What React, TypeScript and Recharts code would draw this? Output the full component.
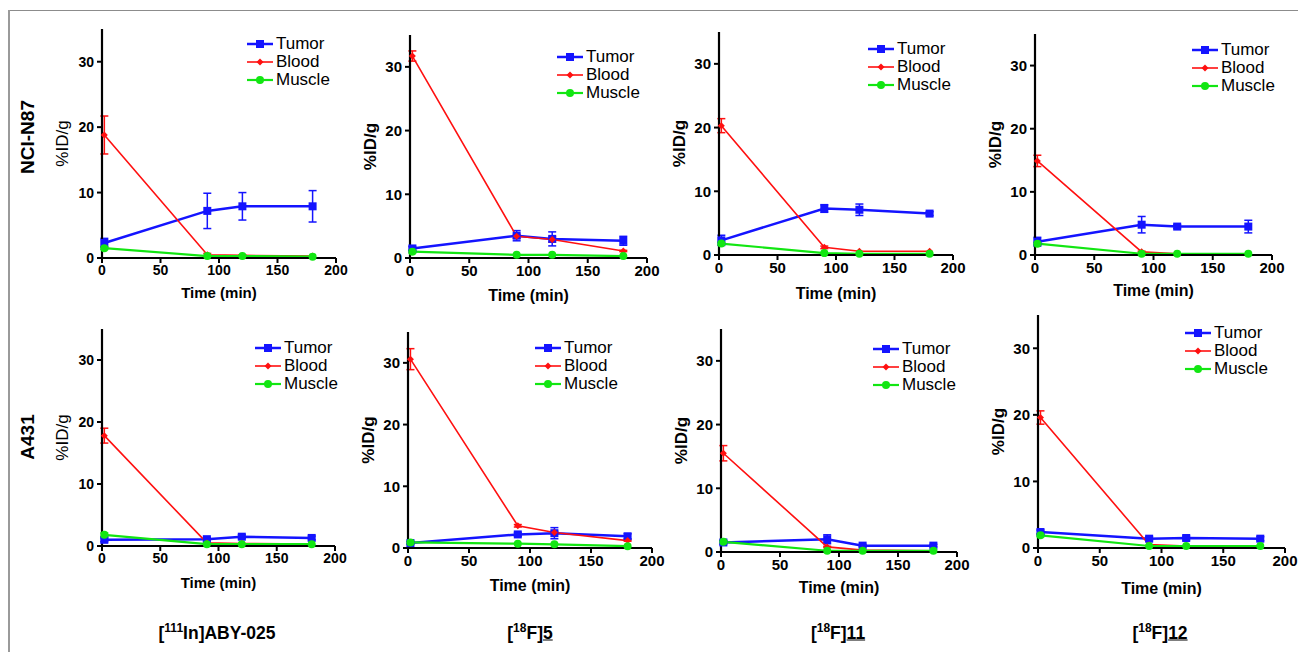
import React from "react";
import { LineChart, Line, XAxis, YAxis, ErrorBar, Legend } from "recharts";

// ---------- data ----------
const times = [2, 90, 120, 180];
const xTicks = [0, 50, 100, 150, 200];
const yTicks = [0, 10, 20, 30];
const seriesNames = ["Tumor", "Blood", "Muscle"];
const cellLines = ["NCI-N87", "A431"];
const tracerIsotopes = ["111", "18", "18", "18"];
const tracerElements = ["In", "F", "F", "F"];
const tracerCompounds = ["ABY-025", "5", "11", "12"];

// rows: tracer [111In]ABY-025, [18F]5, [18F]11, [18F]12 ; cols: times
const n87Tumor = [[2.3, 7.2, 7.9, 7.9], [1.5, 3.5, 3.0, 2.7], [2.3, 7.3, 7.1, 6.5], [2.1, 4.8, 4.5, 4.5]];
const n87TumorErr = [[0.7, 2.7, 2.1, 2.4], [0.3, 0.8, 1.1, 0.7], [0.8, 0.6, 0.9, 0.3], [0.7, 1.3, 0.3, 1.0]];
const n87Blood = [[18.8, 0.5, 0.4, 0.3], [31.7, 3.4, 2.9, 1.1], [20.3, 1.2, 0.6, 0.6], [14.9, 0.5, 0.2, 0.2]];
const n87BloodErr = [[2.9, 0.2, 0.1, 0], [0.8, 0.3, 0.4, 0.1], [1.1, 0.2, 0, 0], [0.9, 0.1, 0, 0]];
const n87Muscle = [[1.5, 0.3, 0.3, 0.2], [1.0, 0.5, 0.5, 0.3], [1.8, 0.3, 0.2, 0.2], [1.8, 0.2, 0.2, 0.2]];
const n87MuscleErr = [[0.2, 0, 0, 0], [0.2, 0, 0, 0], [0.2, 0, 0, 0], [0.2, 0, 0, 0]];

const a431Tumor = [[1.0, 1.1, 1.5, 1.3], [0.8, 2.2, 2.4, 1.9], [1.5, 2.0, 1.0, 1.0], [2.4, 1.4, 1.5, 1.4]];
const a431TumorErr = [[0.3, 0.3, 0.3, 0.3], [0.2, 0.3, 0.9, 0.4], [0.3, 0.7, 0.2, 0.2], [0.3, 0.3, 0.3, 0.3]];
const a431Blood = [[17.8, 0.5, 0.4, 0.3], [30.6, 3.6, 2.5, 1.2], [15.5, 0.8, 0.3, 0.2], [19.6, 0.5, 0.3, 0.3]];
const a431BloodErr = [[1.2, 0, 0, 0], [1.7, 0.2, 0.2, 0.1], [1.2, 0.1, 0, 0], [1.0, 0, 0, 0]];
const a431Muscle = [[1.8, 0.3, 0.3, 0.3], [0.9, 0.7, 0.6, 0.3], [1.6, 0.2, 0.2, 0.2], [1.9, 0.3, 0.3, 0.3]];
const a431MuscleErr = [[0.3, 0, 0, 0], [0.2, 0, 0, 0], [0.2, 0, 0, 0], [0.2, 0, 0, 0]];

// ---------- styling / layout ----------
const FONT = "'Liberation Sans', Arial, Helvetica, sans-serif";
const BLUE = "#1414ff";
const RED = "#ff1010";
const GREEN = "#12e612";

const SERIES = [
  { key: "tumor", name: seriesNames[0], color: BLUE, width: 2.5, shape: "square" },
  { key: "blood", name: seriesNames[1], color: RED, width: 1.6, shape: "diamond" },
  { key: "muscle", name: seriesNames[2], color: GREEN, width: 2.2, shape: "circle" },
];

const PANELS = [
  { row: 0, tr: 0, x0: 102, x1: 336, yT: 29, yB: 258, legX: 247, legY: 44, fs: 14, yBold: false, xt: 35 },
  { row: 0, tr: 1, x0: 410, x1: 647, yT: 35, yB: 258, legX: 557, legY: 57, fs: 15, yBold: true, xt: 37 },
  { row: 0, tr: 2, x0: 719, x1: 953, yT: 32, yB: 255, legX: 868, legY: 49, fs: 15, yBold: true, xt: 38 },
  { row: 0, tr: 3, x0: 1035, x1: 1272, yT: 34, yB: 255, legX: 1192, legY: 50, fs: 15, yBold: true, xt: 35 },
  { row: 1, tr: 0, x0: 102, x1: 335, yT: 329, yB: 546, legX: 255, legY: 348, fs: 14, yBold: false, xt: 37 },
  { row: 1, tr: 1, x0: 408, x1: 652, yT: 332, yB: 548, legX: 535, legY: 348, fs: 15, yBold: true, xt: 37 },
  { row: 1, tr: 2, x0: 721, x1: 957, yT: 329, yB: 552, legX: 873, legY: 349, fs: 15, yBold: true, xt: 35 },
  { row: 1, tr: 3, x0: 1038, x1: 1285, yT: 315, yB: 548, legX: 1185, legY: 333, fs: 15, yBold: true, xt: 40 },
];

const TITLE_X = [217, 530, 838, 1160];
const ROW_LABEL_Y = [137, 437];

function marker(shape: string, cx: number, cy: number, color: string, key?: string) {
  if (shape === "square") {
    return <rect key={key} x={cx - 4} y={cy - 4} width={8} height={8} fill={color} />;
  }
  if (shape === "diamond") {
    return (
      <polygon
        key={key}
        points={`${cx},${cy - 3.5} ${cx + 3.5},${cy} ${cx},${cy + 3.5} ${cx - 3.5},${cy}`}
        fill={color}
      />
    );
  }
  return <circle key={key} cx={cx} cy={cy} r={4} fill={color} />;
}

function LegendBox() {
  return (
    <div style={{ fontFamily: FONT, fontSize: 17, color: "#000" }}>
      {SERIES.map((s) => (
        <div key={s.key} style={{ display: "flex", alignItems: "center", height: 18, whiteSpace: "nowrap" }}>
          <svg width={26} height={12} style={{ marginRight: 3, display: "block" }}>
            <line x1={0} y1={6} x2={26} y2={6} stroke={s.color} strokeWidth={s.width} />
            {marker(s.shape, 13, 6, s.color)}
          </svg>
          <span style={{ lineHeight: "18px" }}>{s.name}</span>
        </div>
      ))}
    </div>
  );
}

function Panel({ p }: { p: any }) {
  const tumor = p.row === 0 ? n87Tumor : a431Tumor;
  const tumorErr = p.row === 0 ? n87TumorErr : a431TumorErr;
  const blood = p.row === 0 ? n87Blood : a431Blood;
  const bloodErr = p.row === 0 ? n87BloodErr : a431BloodErr;
  const muscle = p.row === 0 ? n87Muscle : a431Muscle;
  const muscleErr = p.row === 0 ? n87MuscleErr : a431MuscleErr;
  const data = times.map((t, i) => ({
    t,
    tumor: tumor[p.tr][i],
    tumorErr: tumorErr[p.tr][i],
    blood: blood[p.tr][i],
    bloodErr: bloodErr[p.tr][i],
    muscle: muscle[p.tr][i],
    muscleErr: muscleErr[p.tr][i],
  }));
  const yAxisW = 80;
  const mt = 10;
  const mr = 22;
  const xH = p.xt * 2;
  const width = p.x1 - p.x0 + yAxisW + mr;
  const height = mt + (p.yB - p.yT) + xH;
  const left = p.x0 - yAxisW;
  const top = p.yT - mt;
  const tickStyle = { fill: "#000", fontSize: p.fs, fontWeight: "bold", fontFamily: FONT };
  return (
    <div style={{ position: "absolute", left, top, width, height }}>
      <LineChart width={width} height={height} data={data} margin={{ top: mt, right: mr, left: 0, bottom: 0 }}>
        <XAxis
          dataKey="t"
          type="number"
          domain={[0, 200]}
          ticks={xTicks}
          height={xH}
          axisLine={{ stroke: "#000", strokeWidth: 2.2 }}
          tickLine={{ stroke: "#000", strokeWidth: 2 }}
          tickSize={5}
          tickMargin={2}
          tick={tickStyle}
          label={{
            value: "Time (min)",
            position: "center",
            style: { fill: "#000", fontSize: p.fs + 1, fontWeight: "bold", fontFamily: FONT },
          }}
        />
        <YAxis
          type="number"
          domain={[0, 35]}
          ticks={yTicks}
          width={yAxisW}
          axisLine={{ stroke: "#000", strokeWidth: 2.2 }}
          tickLine={{ stroke: "#000", strokeWidth: 2 }}
          tickSize={5}
          tickMargin={3}
          tick={tickStyle}
          label={{
            value: "%ID/g",
            position: "center",
            angle: -90,
            style: {
              fill: "#000",
              fontSize: 17,
              fontWeight: p.yBold ? "bold" : "normal",
              fontFamily: FONT,
            },
          }}
        />
        <Legend
          layout="vertical"
          align="center"
          verticalAlign="middle"
          wrapperStyle={{ left: p.legX - left, top: p.legY - 9 - top, width: "auto", height: "auto" }}
          content={() => <LegendBox />}
        />
        {SERIES.map((s) => (
          <Line
            key={s.key}
            type="linear"
            dataKey={s.key}
            name={s.name}
            stroke={s.color}
            strokeWidth={s.width}
            isAnimationActive={false}
            activeDot={false}
            dot={(props: any) => marker(s.shape, props.cx, props.cy, s.color, `${s.key}-${props.index}`)}
          >
            <ErrorBar dataKey={`${s.key}Err`} direction="y" width={4} strokeWidth={1.5} stroke={s.color} />
          </Line>
        ))}
      </LineChart>
    </div>
  );
}

export default function App() {
  return (
    <div
      style={{
        position: "absolute",
        left: 0,
        top: 0,
        width: 1298,
        height: 652,
        background: "#fff",
        fontFamily: FONT,
        overflow: "hidden",
      }}
    >
      <div style={{ position: "absolute", left: 8, top: 10, width: 1290, height: 1, background: "#8c8c8c" }} />
      <div style={{ position: "absolute", left: 8, top: 10, width: 2, height: 642, background: "#9a9a9a" }} />

      {cellLines.map((c, i) => (
        <div
          key={c}
          style={{
            position: "absolute",
            left: 28,
            top: ROW_LABEL_Y[i],
            transform: "translate(-50%, -50%) rotate(-90deg)",
            fontSize: 19,
            fontWeight: "bold",
            whiteSpace: "nowrap",
            color: "#000",
          }}
        >
          {c}
        </div>
      ))}

      {PANELS.map((p, i) => (
        <Panel key={i} p={p} />
      ))}

      {tracerCompounds.map((c, i) => (
        <div
          key={c}
          style={{
            position: "absolute",
            left: TITLE_X[i],
            top: 633,
            transform: "translate(-50%, -50%)",
            fontSize: 17.5,
            fontWeight: "bold",
            whiteSpace: "nowrap",
            color: "#000",
          }}
        >
          [
          <span style={{ fontSize: 12, position: "relative", top: -7 }}>{tracerIsotopes[i]}</span>
          {tracerElements[i]}]
          <span style={{ textDecoration: i === 0 ? "none" : "underline" }}>{c}</span>
        </div>
      ))}
    </div>
  );
}
